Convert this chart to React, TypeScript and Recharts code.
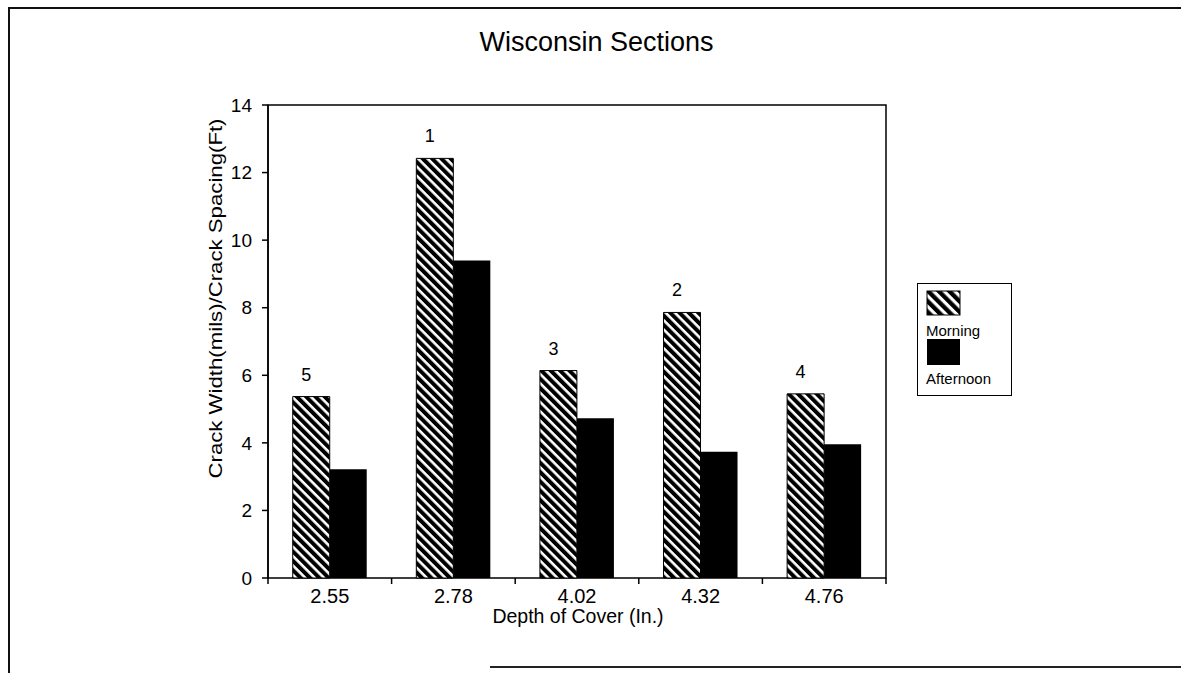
import React from 'react';
import { BarChart, Bar, XAxis, YAxis, LabelList, Legend, ReferenceArea, Label } from 'recharts';

const depths = ['2.55', '2.78', '4.02', '4.32', '4.76'];
const morning = [5.37, 12.42, 6.14, 7.86, 5.45];
const afternoon = [3.22, 9.4, 4.73, 3.74, 3.96];
const sections = ['5', '1', '3', '2', '4'];
const yTicks = [0, 2, 4, 6, 8, 10, 12, 14];

const data = depths.map((d, i) => ({
  depth: d,
  morning: morning[i],
  afternoon: afternoon[i],
  section: sections[i],
}));

const FONT = '"Liberation Sans", Arial, sans-serif';
const X_TICK_SIZE = 6;
const X_TICK_MARGIN = 5;

// category labels in the middle, tick marks on the band edges (like Excel)
const renderXTick = (props: any) => {
  const { x, y, payload, width, visibleTicksCount, index } = props;
  const band = width / visibleTicksCount;
  const axisY = y - X_TICK_SIZE - X_TICK_MARGIN;
  const left = x - band / 2;
  const right = x + band / 2;
  return (
    <g>
      <line x1={left} y1={axisY} x2={left} y2={axisY + 6} stroke="#000" strokeWidth={1.5} />
      {index === visibleTicksCount - 1 && (
        <line x1={right} y1={axisY} x2={right} y2={axisY + 6} stroke="#000" strokeWidth={1.5} />
      )}
      <text x={x} y={y} dy="0.71em" textAnchor="middle" fontSize={20} fontFamily={FONT} fill="#000">
        {payload.value}
      </text>
    </g>
  );
};

const renderYLabel = (props: any) => {
  const { viewBox } = props;
  const x = viewBox.x + 7;
  const y = viewBox.y + viewBox.height / 2 - 43;
  return (
    <text
      x={x}
      y={y}
      transform={`rotate(-90, ${x}, ${y})`}
      textAnchor="middle"
      dominantBaseline="central"
      fontSize={19}
      fontFamily={FONT}
      fill="#000"
      textLength={360}
      lengthAdjust="spacingAndGlyphs"
    >
      Crack Width(mils)/Crack Spacing(Ft)
    </text>
  );
};

const renderXLabel = (props: any) => {
  const { viewBox } = props;
  return (
    <text
      x={viewBox.x + viewBox.width / 2 + 1}
      y={viewBox.y + 45}
      textAnchor="middle"
      fontSize={19.5}
      fontFamily={FONT}
      fill="#000"
    >
      Depth of Cover (In.)
    </text>
  );
};

const renderLegend = () => (
  <svg width={95} height={113} style={{ display: 'block' }}>
    <rect x={0.5} y={0.5} width={94} height={112} fill="#fff" stroke="#000" />
    <rect x={10} y={8} width={33} height={24} fill="url(#hatchBig)" stroke="#000" />
    <text x={9} y={53} fontSize={15} fontFamily={FONT} fill="#000">Morning</text>
    <rect x={10} y={56} width={33} height={26} fill="#000" />
    <text x={9} y={101} fontSize={15} fontFamily={FONT} fill="#000">Afternoon</text>
  </svg>
);

const App: React.FC = () => {
  return (
    <div style={{ position: 'absolute', left: 0, top: 0, width: 1181, height: 673, background: '#fff', fontFamily: FONT }}>
      {/* scanned frame */}
      <div style={{ position: 'absolute', left: 8, top: 7, width: 1173, height: 2, background: '#111' }} />
      <div style={{ position: 'absolute', left: 8, top: 7, width: 2, height: 666, background: '#111' }} />
      <div style={{ position: 'absolute', left: 490, top: 666, width: 691, height: 2, background: '#222' }} />

      <div style={{ position: 'absolute', left: 6, top: 29, width: 1181, textAlign: 'center', fontSize: 27, lineHeight: '27px', color: '#000' }}>
        Wisconsin Sections
      </div>

      <div style={{ position: 'absolute', left: 0, top: 0 }}>
        <BarChart
          width={1181}
          height={673}
          data={data}
          margin={{ top: 105, right: 295, bottom: 65, left: 208 }}
          barCategoryGap="20%"
          barGap={0}
        >
          <defs>
            <pattern id="hatch" patternUnits="userSpaceOnUse" width={6.6} height={6.6} patternTransform="rotate(-45)">
              <rect width={6.6} height={6.6} fill="#fff" />
              <rect width={4} height={6.6} fill="#000" />
            </pattern>
            <pattern id="hatchBig" patternUnits="userSpaceOnUse" width={7.5} height={7.5} patternTransform="rotate(-45)">
              <rect width={7.5} height={7.5} fill="#fff" />
              <rect width={4.3} height={7.5} fill="#000" />
            </pattern>
          </defs>
          <XAxis
            dataKey="depth"
            height={30}
            axisLine={false}
            tickLine={false}
            tickSize={X_TICK_SIZE}
            tickMargin={X_TICK_MARGIN}
            interval={0}
            tick={renderXTick}
          >
            <Label content={renderXLabel} />
          </XAxis>
          <YAxis
            width={60}
            domain={[0, 14]}
            ticks={yTicks}
            interval={0}
            axisLine={{ stroke: '#000', strokeWidth: 1.5 }}
            tickLine={{ stroke: '#000', strokeWidth: 1.5 }}
            tickSize={6}
            tickMargin={10}
            tick={{ fill: '#000', fontSize: 19, fontFamily: FONT }}
          >
            <Label content={renderYLabel} />
          </YAxis>
          <ReferenceArea y1={0} y2={14} fill="none" stroke="#000" strokeWidth={1.5} />
          <Bar dataKey="morning" name="Morning" fill="url(#hatch)" stroke="#000" strokeWidth={1} isAnimationActive={false}>
            <LabelList dataKey="section" position="top" offset={16} dx={-5} fill="#000" fontSize={18} fontFamily={FONT} />
          </Bar>
          <Bar dataKey="afternoon" name="Afternoon" fill="#000" isAnimationActive={false} />
          <Legend
            layout="horizontal"
            align="center"
            verticalAlign="middle"
            content={renderLegend}
            wrapperStyle={{ left: 917, top: 283, width: 95, height: 113 }}
          />
        </BarChart>
      </div>
    </div>
  );
};

export default App;
